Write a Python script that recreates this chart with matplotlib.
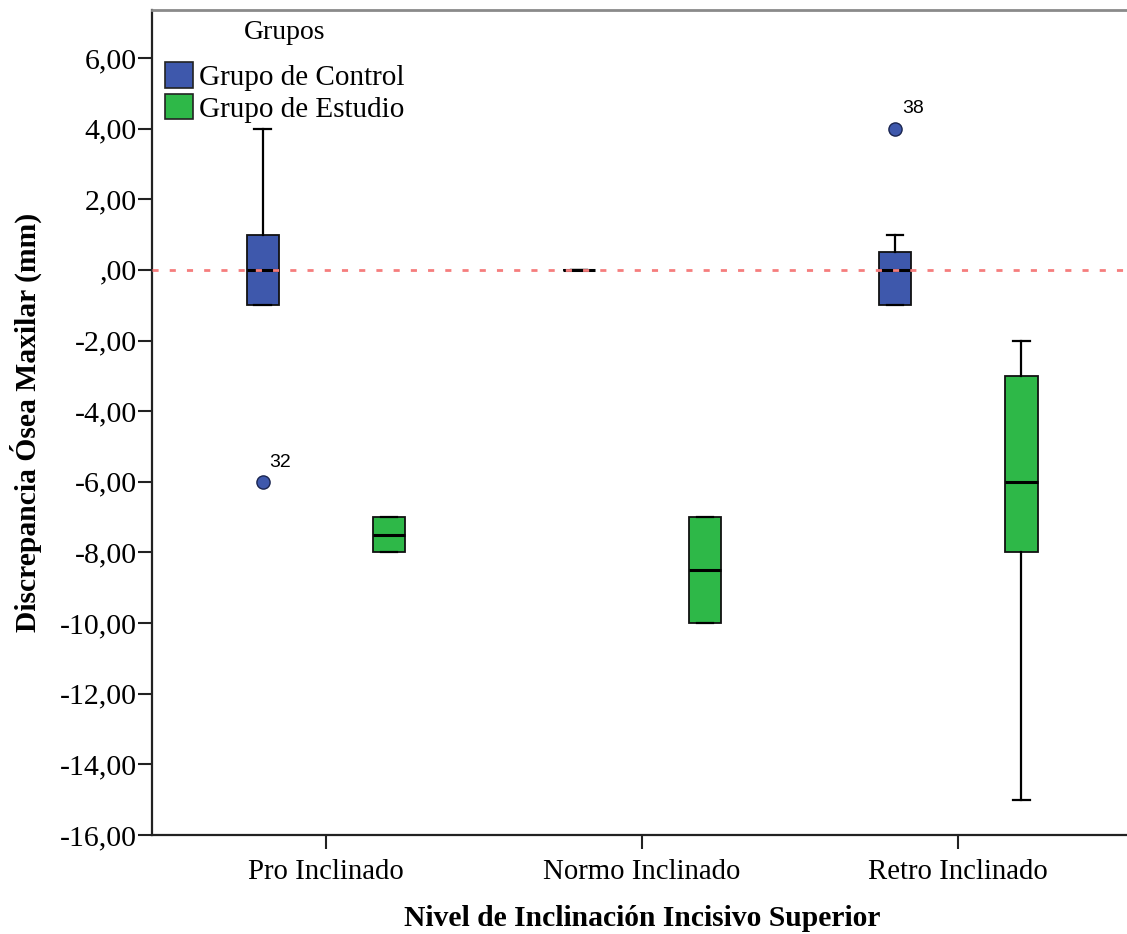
import numpy as np
import matplotlib
matplotlib.use('Agg')
import matplotlib.pyplot as plt
from matplotlib.patches import Patch
from matplotlib.ticker import FuncFormatter

plt.rcParams['font.family'] = ['Liberation Serif', 'DejaVu Serif']

# categories and groups
categorias = ['Pro Inclinado', 'Normo Inclinado', 'Retro Inclinado']
grupos = ['Grupo de Control', 'Grupo de Estudio']
colores = ['#3E58AC', '#2EB848']

# box summaries (one value per category)
control_med = [0, 0, 0]
control_q1 = [-1, 0, -1]
control_q3 = [1, 0, 0.5]
control_whislo = [-1, 0, -1]
control_whishi = [4, 0, 1]

estudio_med = [-7.5, -8.5, -6]
estudio_q1 = [-8, -10, -8]
estudio_q3 = [-7, -7, -3]
estudio_whislo = [-8, -10, -15]
estudio_whishi = [-7, -7, -2]

# outliers (control group only)
atip_cat = [0, 2]
atip_val = [-6, 4]
atip_id = ['32', '38']

y_ticks = np.arange(-16, 7, 2)


def stats(med, q1, q3, lo, hi, fl):
    out = []
    for i in range(len(med)):
        out.append(dict(med=med[i], q1=q1[i], q3=q3[i], whislo=lo[i], whishi=hi[i],
                        fliers=[v for c, v in zip(atip_cat, atip_val) if c == i] if fl else []))
    return out


fig = plt.figure(figsize=(11.27, 9.34), dpi=100)
ax = fig.add_axes([0.1349, 0.106, 0.8696, 0.8834])

x = np.arange(len(categorias))
offset = 0.2
datos = [
    stats(control_med, control_q1, control_q3, control_whislo, control_whishi, True),
    stats(estudio_med, estudio_q1, estudio_q3, estudio_whislo, estudio_whishi, False),
]
for g, (st, col) in enumerate(zip(datos, colores)):
    pos = x + (-offset if g == 0 else offset)
    ax.bxp(st, positions=pos, widths=0.102, patch_artist=True, showfliers=True,
           capwidths=0.052,
           boxprops=dict(facecolor=col, edgecolor='#111111', linewidth=1.3),
           medianprops=dict(color='black', linewidth=2.2),
           whiskerprops=dict(color='black', linewidth=1.6),
           capprops=dict(color='black', linewidth=1.6),
           flierprops=dict(marker='o', markerfacecolor=col, markeredgecolor='#1a2550',
                           markersize=9.5, markeredgewidth=1.0))

for c, v, t in zip(atip_cat, atip_val, atip_id):
    ax.annotate(t, (x[c] - offset, v), xytext=(5, 8), textcoords='offset points',
                ha='left', va='bottom', fontsize=14, family=['Liberation Sans', 'DejaVu Sans'])

ax.axhline(0, color='#f57d7d', linewidth=2.0, linestyle=(0, (2.2, 4.0)), zorder=5)

ax.set_xlim(-0.55, 2.55)
ax.set_ylim(-16, 7.36)
ax.set_xticks(x)
ax.set_xticklabels(categorias)
ax.set_yticks(y_ticks)


def fmt(v, pos):
    s = '%.2f' % v
    s = s.replace('.', ',')
    if s.startswith('0,') or s.startswith('-0,'):
        s = ',00'
    return s


ax.yaxis.set_major_formatter(FuncFormatter(fmt))
ax.tick_params(axis='both', length=10, width=1.5, color='#222222')
ax.tick_params(axis='y', pad=1, labelsize=21.5)
ax.tick_params(axis='x', pad=7, labelsize=20.7)

for s in ['left', 'bottom']:
    ax.spines[s].set_linewidth(1.6)
    ax.spines[s].set_color('#222222')
ax.spines['top'].set_color('#8a8a8a')
ax.spines['top'].set_linewidth(2.0)
ax.spines['right'].set_visible(False)

ax.set_xlabel('Nivel de Inclinación Incisivo Superior', fontsize=21.3, fontweight='bold', labelpad=15)
ax.set_ylabel('Discrepancia Ósea Maxilar (mm)', fontsize=21.3, fontweight='bold', labelpad=13)

handles = [Patch(facecolor=c, edgecolor='#222222', linewidth=1.2) for c in colores]
leg = ax.legend(handles, grupos, loc='upper left', frameon=False,
                fontsize=21, handlelength=0.96, handleheight=0.96,
                handletextpad=0.2, labelspacing=0.1, borderpad=0, borderaxespad=0,
                bbox_to_anchor=(0.0133, 0.9364))
ax.text(0.1357, 0.9722, 'Grupos', transform=ax.transAxes, ha='center', va='center',
        fontsize=20)

fig.savefig('out.png', dpi=100)
